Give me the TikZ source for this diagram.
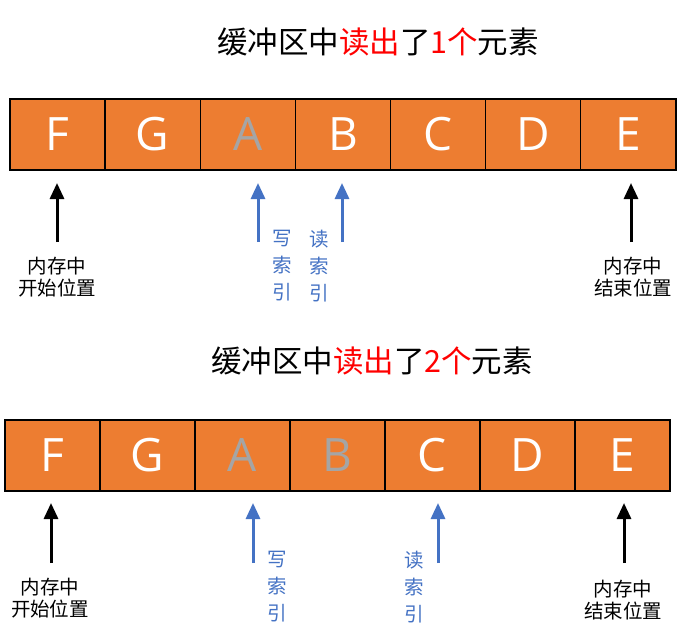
\documentclass[tikz,border=0pt]{standalone}
\usepackage{fontspec}
\newfontfamily\cjk{Noto Sans CJK SC}
\newfontfamily\lat{Open Sans}
\usetikzlibrary{arrows.meta}
\definecolor{cellorange}{HTML}{ED7D31}
\definecolor{idxblue}{HTML}{4472C4}
\definecolor{readgray}{HTML}{A5A5A5}
\tikzset{
  cell/.style={draw=black, line width=1.5pt, fill=cellorange, minimum height=71pt,
    inner sep=0pt, text=white, font=\lat\fontsize{46}{46}\selectfont},
  cellA/.style={cell, minimum width=95.1pt},
  cellB/.style={cell, minimum width=95pt},
  ptr/.style={line width=3pt, -{Triangle[width=14pt,length=16pt]}},
  title/.style={font=\cjk\fontsize{30.5}{30.5}\selectfont, inner sep=0pt},
  memlbl/.style={font=\cjk\fontsize{19.5}{22}\selectfont, align=center, inner sep=0pt},
  idxlbl/.style={font=\cjk\fontsize{19.5}{27}\selectfont, align=center, inner sep=0pt, text=idxblue}
}
\begin{document}
\begin{tikzpicture}[x=1pt, y=-1pt]
  \useasboundingbox[fill=white] (0,0) rectangle (680,634);
  % first buffer: one element read
  \node[title] (headA) at (378,42) {缓冲区中\textcolor{red}{读出}了\textcolor{red}{1个}元素};
  \node[cellA] (a1) at (57.6,134.5) {F};
  \node[cellA] (a2) at (152.7,134.5) {G};
  \node[cellA, text=readgray] (a3) at (247.8,134.5) {A};
  \node[cellA] (a4) at (342.9,134.5) {B};
  \node[cellA] (a5) at (438.0,134.5) {C};
  \node[cellA] (a6) at (533.1,134.5) {D};
  \node[cellA] (a7) at (628.2,134.5) {E};
  \coordinate (startA0) at (57,242);  \coordinate (startA1) at (57,183);
  \coordinate (writeA0) at (258,242); \coordinate (writeA1) at (258,183);
  \coordinate (readA0) at (342,242);  \coordinate (readA1) at (342,183);
  \coordinate (endA0) at (631,242);   \coordinate (endA1) at (631,183);
  \draw[ptr] (startA0) -- (startA1);
  \draw[ptr, idxblue] (writeA0) -- (writeA1);
  \draw[ptr, idxblue] (readA0) -- (readA1);
  \draw[ptr] (endA0) -- (endA1);
  \node[memlbl] (startLblA) at (57,277.5) {内存中\\开始位置};
  \node[idxlbl] (writeLblA) at (282,266) {写\\索\\引};
  \node[idxlbl] (readLblA) at (319,266) {读\\索\\引};
  \node[memlbl] (endLblA) at (633,277.5) {内存中\\结束位置};
  % second buffer: two elements read
  \node[title] (headB) at (372,361) {缓冲区中\textcolor{red}{读出}了\textcolor{red}{2个}元素};
  \node[cellB] (b1) at (52.5,455.5) {F};
  \node[cellB] (b2) at (147.5,455.5) {G};
  \node[cellB, text=readgray] (b3) at (242.5,455.5) {A};
  \node[cellB, text=readgray] (b4) at (337.5,455.5) {B};
  \node[cellB] (b5) at (432.5,455.5) {C};
  \node[cellB] (b6) at (527.5,455.5) {D};
  \node[cellB] (b7) at (622.5,455.5) {E};
  \coordinate (startB0) at (51,563);  \coordinate (startB1) at (51,503);
  \coordinate (writeB0) at (253,563); \coordinate (writeB1) at (253,503);
  \coordinate (readB0) at (438,563);  \coordinate (readB1) at (438,503);
  \coordinate (endB0) at (624,563);   \coordinate (endB1) at (624,503);
  \draw[ptr] (startB0) -- (startB1);
  \draw[ptr, idxblue] (writeB0) -- (writeB1);
  \draw[ptr, idxblue] (readB0) -- (readB1);
  \draw[ptr] (endB0) -- (endB1);
  \node[memlbl] (startLblB) at (50,598) {内存中\\开始位置};
  \node[idxlbl] (writeLblB) at (277,587) {写\\索\\引};
  \node[idxlbl] (readLblB) at (414,587) {读\\索\\引};
  \node[memlbl] (endLblB) at (623,600) {内存中\\结束位置};
\end{tikzpicture}
\end{document}
